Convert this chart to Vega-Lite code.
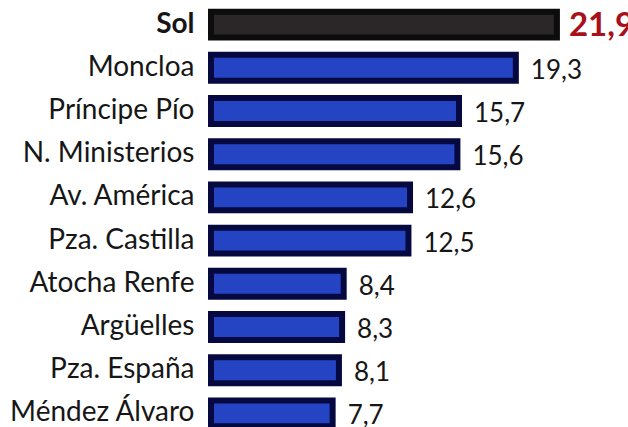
{
  "$schema": "https://vega.github.io/schema/vega-lite/v6.json",
  "width": 417,
  "height": 427,
  "autosize": "none",
  "padding": {"left": 211, "top": 0, "right": 0, "bottom": 0},
  "background": "#ffffff",
  "config": {"view": {"stroke": null}, "font": "Lato"},
  "data": {"values": [
    {"station": "Sol", "value": 21.9, "label": "21,9", "highlight": true},
    {"station": "Moncloa", "value": 19.3, "label": "19,3", "highlight": false},
    {"station": "Príncipe Pío", "value": 15.7, "label": "15,7", "highlight": false},
    {"station": "N. Ministerios", "value": 15.6, "label": "15,6", "highlight": false},
    {"station": "Av. América", "value": 12.6, "label": "12,6", "highlight": false},
    {"station": "Pza. Castilla", "value": 12.5, "label": "12,5", "highlight": false},
    {"station": "Atocha Renfe", "value": 8.4, "label": "8,4", "highlight": false},
    {"station": "Argüelles", "value": 8.3, "label": "8,3", "highlight": false},
    {"station": "Pza. España", "value": 8.1, "label": "8,1", "highlight": false},
    {"station": "Méndez Álvaro", "value": 7.7, "label": "7,7", "highlight": false}
  ]},
  "encoding": {
    "y": {
      "field": "station", "type": "nominal", "sort": null,
      "scale": {"range": [3, 435], "paddingInner": 0.4, "paddingOuter": 0.2},
      "axis": {
        "title": null, "domain": false, "ticks": false,
        "labelFontSize": 28, "labelColor": "#161616", "labelPadding": 17,
        "labelFont": "Lato", "labelLimit": 400,
        "labelFontWeight": {"condition": {"test": "datum.value === 'Sol'", "value": "bold"}, "value": "normal"}
      }
    },
    "x": {
      "field": "value", "type": "quantitative",
      "scale": {"domain": [0, 26.4], "nice": false, "zero": true},
      "axis": null
    }
  },
  "layer": [
    {
      "mark": {"type": "bar", "strokeWidth": 6, "strokeJoin": "miter"},
      "encoding": {
        "fill": {"condition": {"test": "datum.highlight", "value": "#2b2729"}, "value": "#2444c4"},
        "stroke": {"condition": {"test": "datum.highlight", "value": "#0c0c0c"}, "value": "#06093f"}
      }
    },
    {
      "transform": [{"filter": "!datum.highlight"}],
      "mark": {"type": "text", "align": "left", "baseline": "middle", "dx": 15, "dy": 3, "fontSize": 26, "color": "#161616", "font": "Lato"},
      "encoding": {"text": {"field": "label"}}
    },
    {
      "transform": [{"filter": "datum.highlight"}],
      "mark": {"type": "text", "align": "left", "baseline": "middle", "dx": 12, "dy": 1, "fontSize": 33, "fontWeight": "bold", "color": "#a8101c", "font": "Lato"},
      "encoding": {"text": {"field": "label"}}
    }
  ]
}
